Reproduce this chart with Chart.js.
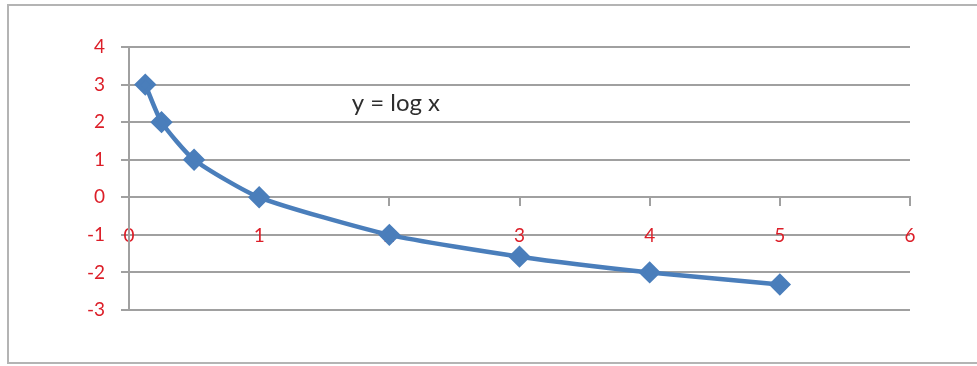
<!DOCTYPE html>
<html>
<head>
<meta charset="utf-8">
<script src="https://cdn.jsdelivr.net/npm/chart.js@4"></script>
<style>
  html, body { margin: 0; padding: 0; background: #fff; }
  #wrap { position: relative; width: 977px; height: 366px; }
  #frame { position: absolute; left: 7px; top: 4px; width: 980px; height: 360px; border: 2px solid #b4b4b4; box-sizing: border-box; }
  canvas { position: absolute; left: 0; top: 0; }
</style>
</head>
<body>
<div id="wrap">
  <div id="frame"></div>
  <canvas id="chart" width="977" height="366"></canvas>
</div>
<script>
// y = log base 1/2 of x
var xValues = [0.125, 0.25, 0.5, 1, 2, 3, 4, 5]
var yValues = [3, 2, 1, 0, -1, -1.58, -2, -2.32]
var xTicks = [0, 1, 2, 3, 4, 5, 6]
var yTicks = [-3, -2, -1, 0, 1, 2, 3, 4]
var curveLabel = "y = log x"

var red = "#dc1e28"
var grey = "#a0a0a0"
var blue = "#4a7ebb"

var points = xValues.map((x, i) => ({ x: x, y: yValues[i] }))

// caption inside the plot, placed in data coordinates
var captionPlugin = {
    id: 'caption',
    afterDatasetsDraw(chart) {
        var c = chart.ctx
        var px = chart.scales.x.getPixelForValue(2.05)
        var py = chart.scales.y.getPixelForValue(2.5)
        c.save()
        c.font = "24px Lato"
        c.fillStyle = "#2e2e2e"
        c.textAlign = "center"
        c.textBaseline = "middle"
        c.fillText(curveLabel, px, py)
        c.restore()
    }
}

window.onload = () => {
    var ctx = document.getElementById("chart").getContext('2d')

    var config = {
        type: 'line',
        data: {
            datasets: [{
                data: points,
                borderColor: blue,
                backgroundColor: blue,
                borderWidth: 4.5,
                tension: 0.2,
                pointStyle: 'rectRot',
                pointRadius: 8,
                fill: false
            }]
        },
        options: {
            responsive: false,
            animation: false,
            layout: { padding: { left: 0, top: 47, right: 67, bottom: 56 } },
            plugins: { legend: { display: false }, tooltip: { enabled: false } },
            scales: {
                x: {
                    type: 'linear',
                    position: { y: 0 },
                    min: 0,
                    max: 6,
                    afterBuildTicks: (s) => { s.ticks = xTicks.map(v => ({ value: v })) },
                    ticks: { color: red, font: { family: "Lato", size: 19 }, padding: 19 },
                    grid: { drawOnChartArea: false, color: grey, lineWidth: 2, tickLength: 8 },
                    border: { color: grey, width: 2 }
                },
                y: {
                    min: -3,
                    max: 4,
                    afterBuildTicks: (s) => { s.ticks = yTicks.map(v => ({ value: v })) },
                    afterFit: (s) => { s.width = 129 },
                    ticks: { color: red, font: { family: "Lato", size: 19 }, padding: 16 },
                    grid: { color: grey, lineWidth: 2, tickLength: 8 },
                    border: { color: grey, width: 2 }
                }
            }
        },
        plugins: [captionPlugin]
    }

    new Chart(ctx, config)
}
</script>
</body>
</html>
